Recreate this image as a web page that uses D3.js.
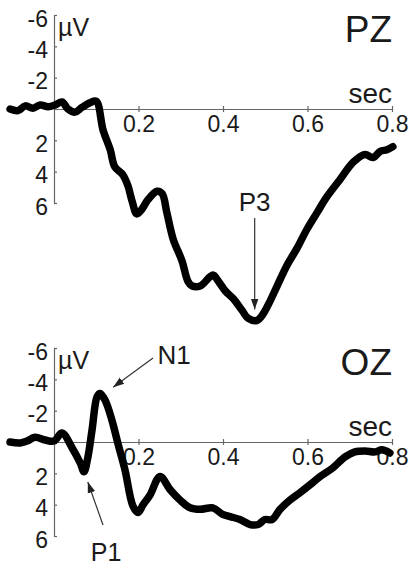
<!DOCTYPE html>
<html lang="en">
<head>
    <meta charset="UTF-8">
    <title>ERP PZ / OZ</title>
    <script src="https://d3js.org/d3.v7.js"></script>
    <style>
        body { margin: 0; background: #fff; }
        text { font-family: "Liberation Sans", Arial, sans-serif; fill: #1a1a1a; }
    </style>
</head>
<body>
<svg></svg>
<script>
    // time in seconds, amplitude in microvolts (negative is drawn up)
    let pzTime = [-0.104, -0.085, -0.068, -0.05, -0.033, -0.014, 0.002, 0.019, 0.033, 0.05, 0.066, 0.085, 0.1,
        0.116, 0.133, 0.144, 0.163, 0.175, 0.185, 0.196, 0.208, 0.222, 0.244, 0.256, 0.267, 0.282, 0.303,
        0.317, 0.327, 0.346, 0.376, 0.388, 0.405, 0.424, 0.445, 0.459, 0.48, 0.492, 0.507, 0.528, 0.551,
        0.575, 0.599, 0.623, 0.646, 0.677, 0.708, 0.736, 0.755, 0.772, 0.788, 0.802];
    let pzAmp = [0.0, 0.1, -0.2, -0.05, -0.25, -0.15, -0.25, -0.45, 0.0, 0.2, -0.1, -0.4, -0.5,
        1.33, 2.6, 3.7, 4.2, 4.9, 5.9, 6.7, 6.4, 5.8, 5.25, 5.4, 6.6, 8.3, 9.7,
        11.0, 11.3, 11.3, 10.6, 10.95, 11.6, 12.1, 12.85, 13.35, 13.5, 13.2, 12.5, 11.3, 10.0,
        8.9, 7.66, 6.6, 5.6, 4.5, 3.4, 2.9, 3.1, 2.7, 2.6, 2.4];

    let ozTime = [-0.104, -0.08, -0.064, -0.045, -0.021, 0, 0.019, 0.043, 0.062, 0.071, 0.08, 0.09, 0.102,
        0.109, 0.121, 0.137, 0.151, 0.168, 0.187, 0.199, 0.211, 0.227, 0.251, 0.275, 0.298, 0.322, 0.346,
        0.376, 0.398, 0.417, 0.44, 0.464, 0.483, 0.499, 0.516, 0.535, 0.559, 0.582, 0.606, 0.63, 0.66,
        0.689, 0.712, 0.736, 0.76, 0.776, 0.795];
    let ozAmp = [0.0, 0.06, -0.06, -0.3, -0.13, -0.06, -0.57, 0.38, 1.33, 1.9, 1.0, -0.76, -2.9,
        -3.1, -2.67, -1.4, 0.06, 1.78, 4.1, 4.5, 4.0, 3.4, 2.2, 3.05, 3.7, 4.2, 4.3,
        4.2, 4.6, 4.76, 4.95, 5.27, 5.27, 4.95, 4.95, 4.3, 3.7, 3.24, 2.73, 2.2, 1.65,
        0.95, 0.63, 0.57, 0.63, 0.5, 0.7];

    let xTicks = [0.2, 0.4, 0.6, 0.8];
    let yTicks = [-6, -4, -2, 2, 4, 6];

    let width = 409;
    let height = 568;

    let svg = d3.select("svg")
        .attr("width", width)
        .attr("height", height);

    let x = d3.scaleLinear().domain([0, 0.8]).range([54, 392]);

    function panel(top, bottom, name, times, amps) {
        let y = d3.scaleLinear().domain([-6, 6]).range([top, bottom]);
        let g = svg.append("g");

        // y axis, ticks point right, labels sit left of the line
        let yAxis = d3.axisRight(y)
            .tickValues(yTicks)
            .tickSizeInner(3)
            .tickSizeOuter(0)
            .tickFormat(d3.format("d"));
        let ya = g.append("g")
            .attr("transform", "translate(" + x(0) + ",0)")
            .call(yAxis);
        ya.selectAll("text")
            .attr("x", -6)
            .attr("dy", "0.48em")
            .style("text-anchor", "end")
            .style("font-size", "23px")
            .text(d => d < 0 ? "-" + Math.abs(d) : d);

        // x axis at zero, ticks cross the line
        let xAxis = d3.axisBottom(x)
            .tickValues(xTicks)
            .tickSizeInner(3)
            .tickSizeOuter(0)
            .tickPadding(6)
            .tickFormat(d3.format(".1f"));
        let xa = g.append("g")
            .attr("transform", "translate(0," + y(0) + ")")
            .call(xAxis);
        xa.selectAll(".tick line").attr("y1", -3).attr("y2", 3);
        xa.selectAll("text")
            .attr("y", 7)
            .style("font-size", "23px");

        g.selectAll(".domain, .tick line")
            .attr("stroke", "#666")
            .attr("stroke-width", 1.2);
        g.selectAll(".tick text").attr("fill", "#1a1a1a").style("font-family", "'Liberation Sans', Arial, sans-serif");

        g.append("text")
            .attr("x", x(0) + 4)
            .attr("y", y(-6) + 21)
            .style("font-size", "25px")
            .text("\u00b5V");

        g.append("text")
            .attr("x", x(0.8))
            .attr("y", y(0) - 6)
            .style("text-anchor", "end")
            .style("font-size", "28px")
            .text("sec");

        g.append("text")
            .attr("x", x(0.8))
            .attr("y", y(-6) + 27)
            .style("text-anchor", "end")
            .style("font-size", "37px")
            .text(name);

        let line = d3.line()
            .x((d, i) => x(times[i]))
            .y(d => y(d))
            .curve(d3.curveCatmullRom.alpha(0.5));

        g.append("path")
            .datum(amps)
            .attr("d", line)
            .attr("fill", "none")
            .attr("stroke", "#000")
            .attr("stroke-width", 7.5)
            .attr("stroke-linejoin", "round")
            .attr("stroke-linecap", "round");

        return y;
    }

    svg.append("defs").append("marker")
        .attr("id", "head")
        .attr("viewBox", "0 0 10 10")
        .attr("refX", 10)
        .attr("refY", 5)
        .attr("markerWidth", 11)
        .attr("markerHeight", 11)
        .attr("markerUnits", "userSpaceOnUse")
        .attr("orient", "auto")
        .append("path")
        .attr("d", "M0,1.5 L10,5 L0,8.5 Z")
        .attr("fill", "#222");

    function arrow(x1, y1, x2, y2) {
        svg.append("line")
            .attr("x1", x1).attr("y1", y1)
            .attr("x2", x2).attr("y2", y2)
            .attr("stroke", "#333")
            .attr("stroke-width", 1.2)
            .attr("marker-end", "url(#head)");
    }

    function label(px, py, s, size) {
        svg.append("text")
            .attr("x", px)
            .attr("y", py)
            .style("text-anchor", "middle")
            .style("font-size", (size || 26) + "px")
            .text(s);
    }

    let yPZ = panel(15, 203, "PZ", pzTime, pzAmp);
    let yOZ = panel(348, 536, "OZ", ozTime, ozAmp);

    // P3 annotation
    label(x(0.475), 211, "P3");
    arrow(x(0.475), 218, x(0.475), yPZ(12.8));

    // N1 annotation
    label(174, 364, "N1");
    arrow(153, 358, x(0.14), yOZ(-3.5));

    // P1 annotation
    label(106, 561, "P1", 25);
    arrow(103, 525, x(0.08), yOZ(2.55));
</script>
</body>
</html>
